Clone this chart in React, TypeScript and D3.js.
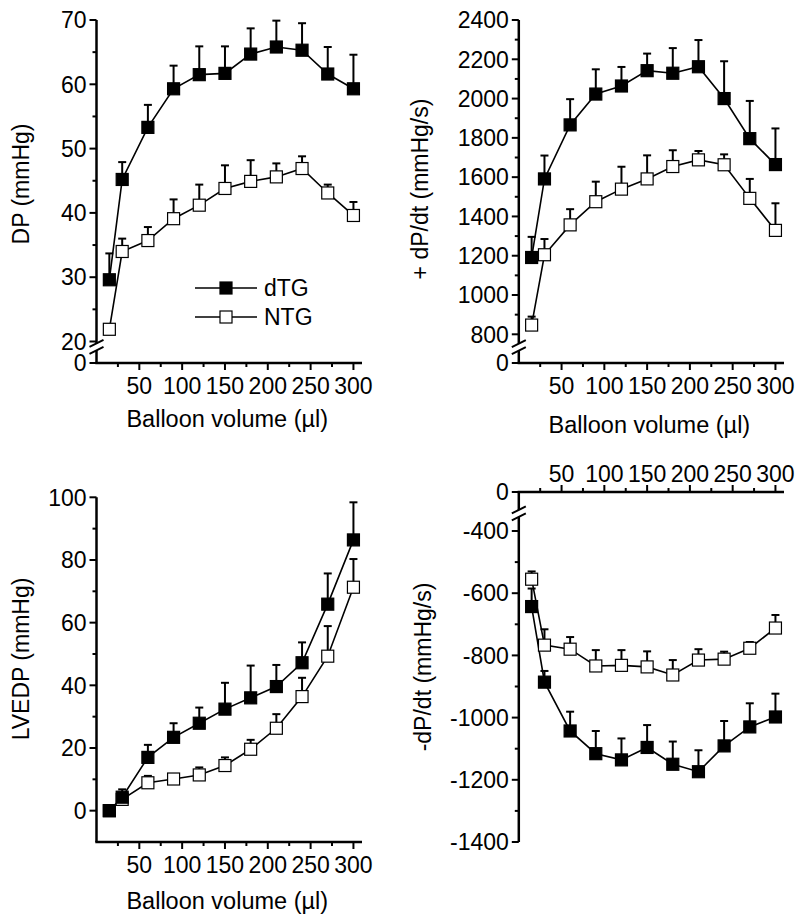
import React from 'react';
import * as d3 from 'd3';

// balloon volumes (µl) shared by all four panels
const volumes = [15, 30, 60, 90, 120, 150, 180, 210, 240, 270, 300];
const xTicks = [50, 100, 150, 200, 250, 300];
const xMinorTicks = [25, 75, 125, 175, 225, 275];

// DP (mmHg)
const dpDTG = [29.6, 45.2, 53.3, 59.3, 61.5, 61.7, 64.7, 65.8, 65.3, 61.6, 59.3];
const dpDTGErr = [4.1, 2.7, 3.5, 3.6, 4.4, 4.2, 4.0, 4.1, 4.2, 4.2, 5.3];
const dpNTG = [21.9, 34.0, 35.7, 39.1, 41.2, 43.8, 44.9, 45.6, 46.9, 43.1, 39.6];
const dpNTGErr = [0.8, 2.0, 2.1, 3.0, 3.2, 3.6, 3.3, 2.1, 1.9, 1.3, 2.1];
const dpTicks = [0, 20, 30, 40, 50, 60, 70];
const dpMinor = [25, 35, 45, 55, 65];

// +dP/dt (mmHg/s)
const dpdtDTG = [1191, 1591, 1866, 2023, 2064, 2142, 2129, 2162, 2000, 1796, 1664];
const dpdtDTGErr = [105, 119, 131, 126, 97, 87, 128, 136, 190, 192, 184];
const dpdtNTG = [847, 1205, 1357, 1475, 1539, 1591, 1654, 1688, 1663, 1492, 1329];
const dpdtNTGErr = [43, 80, 80, 102, 114, 120, 83, 45, 53, 99, 138];
const dpdtTicks = [0, 800, 1000, 1200, 1400, 1600, 1800, 2000, 2200, 2400];
const dpdtMinor = [900, 1100, 1300, 1500, 1700, 1900, 2100, 2300];

// LVEDP (mmHg)
const lvedpDTG = [0, 4.3, 17.0, 23.4, 27.9, 32.4, 36.0, 39.6, 47.2, 65.9, 86.4];
const lvedpDTGErr = [0, 2.5, 4.0, 4.5, 5.0, 8.4, 10.3, 6.9, 6.5, 9.8, 12.0];
const lvedpNTG = [0, 3.6, 8.9, 10.1, 11.4, 14.4, 19.6, 26.3, 36.4, 49.3, 71.3];
const lvedpNTGErr = [0, 1.0, 2.2, 0.7, 2.4, 2.6, 3.0, 4.5, 6.0, 9.6, 9.0];
const lvedpTicks = [0, 20, 40, 60, 80, 100];
const lvedpMinor = [10, 30, 50, 70, 90];

// -dP/dt (mmHg/s)
const negDTG = [-643, -886, -1043, -1116, -1136, -1096, -1150, -1174, -1091, -1030, -998];
const negDTGErr = [58, 36, 62, 73, 69, 72, 73, 69, 80, 76, 75];
const negNTG = [-555, -767, -780, -834, -832, -837, -863, -815, -812, -777, -712];
const negNTGErr = [25, 51, 39, 51, 49, 50, 48, 35, 24, 20, 42];
const negTicks = [0, -400, -600, -800, -1000, -1200, -1400];
const negMinor = [-500, -700, -900, -1100, -1300];

const groups = ['dTG', 'NTG'];

const FONT = "'Liberation Sans', Arial, Helvetica, sans-serif";
const FS = 23;

type Series = { values: number[]; errors: number[]; filled: boolean };

type PanelProps = {
  x: d3.ScaleLinear<number, number>;
  y: d3.ScaleLinear<number, number>;
  xAxisValue: number;
  xAxisTop?: boolean;
  yTicks: number[];
  yMinor: number[];
  brk?: [number, number, number];
  yTitle: string;
  yTitleX: number;
  yTitleY: number;
  xTitleY?: number;
  series: Series[];
};

const Panel = ({ x, y, xAxisValue, xAxisTop, yTicks, yMinor, brk, yTitle, yTitleX, yTitleY, xTitleY, series }: PanelProps) => {
  const ax = x(0);
  const ay = y(xAxisValue);
  const [r0, r1] = d3.extent(y.range()) as [number, number];
  const xEnd = x.domain()[1];
  const tdir = xAxisTop ? -1 : 1;

  // y axis segments (with optional break)
  const segs: [number, number][] = [];
  const slashes: number[] = [];
  if (brk) {
    const yA = y(brk[0]);
    const yB = y(brk[1]);
    const c = yA + (yB - yA) * brk[2];
    const d = Math.sign(yB - yA);
    segs.push([yA, c - 3.5 * d]);
    const far = d < 0 ? r0 : r1;
    segs.push([c + 3.5 * d, far]);
    slashes.push(c - 3.5 * d, c + 3.5 * d);
  } else {
    segs.push([r0, r1]);
  }

  const line = d3.line<number>().x((_, i) => x(volumes[i])).y(v => y(v));

  return (
    <g>
      {/* x axis */}
      <line x1={ax - 1.2} x2={x(xEnd)} y1={ay} y2={ay} stroke="#000" strokeWidth={2.5} />
      {xTicks.map(t => (
        <g key={'xt' + t}>
          <line x1={x(t)} x2={x(t)} y1={ay} y2={ay + tdir * 7} stroke="#000" strokeWidth={2} />
          <text x={x(t)} y={xAxisTop ? ay - 10 : ay + 31} textAnchor="middle" fontSize={FS}>{t}</text>
        </g>
      ))}
      {xMinorTicks.map(t => (
        <line key={'xm' + t} x1={x(t)} x2={x(t)} y1={ay} y2={ay + tdir * 4} stroke="#000" strokeWidth={2} />
      ))}
      {xTitleY !== undefined && (
        <text x={(x(0) + x(xEnd)) / 2 - 2} y={xTitleY} textAnchor="middle" fontSize={FS + 0.5}>Balloon volume (µl)</text>
      )}

      {/* y axis */}
      {segs.map((s, i) => (
        <line key={'ys' + i} x1={ax} x2={ax} y1={s[0]} y2={s[1]} stroke="#000" strokeWidth={2.5} />
      ))}
      {slashes.map((s, i) => (
        <line key={'sl' + i} x1={ax - 7} x2={ax + 7} y1={s + 3.5} y2={s - 3.5} stroke="#000" strokeWidth={2} />
      ))}
      {yTicks.map(t => (
        <g key={'yt' + t}>
          <line x1={ax} x2={ax - 7} y1={y(t)} y2={y(t)} stroke="#000" strokeWidth={2} />
          <text x={ax - 10} y={y(t)} dy="0.36em" textAnchor="end" fontSize={FS}>{t}</text>
        </g>
      ))}
      {yMinor.map(t => (
        <line key={'ym' + t} x1={ax} x2={ax - 4} y1={y(t)} y2={y(t)} stroke="#000" strokeWidth={2} />
      ))}
      <text transform={`translate(${yTitleX},${yTitleY}) rotate(-90)`} textAnchor="middle" fontSize={FS}>{yTitle}</text>

      {/* series */}
      {series.map((s, k) => (
        <path key={'ln' + k} d={line(s.values) || ''} fill="none" stroke="#000" strokeWidth={1.6} />
      ))}
      {series.map((s, k) =>
        s.values.map((v, i) => s.errors[i] > 0 && (
          <g key={'eb' + k + '-' + i}>
            <line x1={x(volumes[i])} x2={x(volumes[i])} y1={y(v)} y2={y(v + s.errors[i])} stroke="#000" strokeWidth={2} />
            <line x1={x(volumes[i]) - 4} x2={x(volumes[i]) + 4} y1={y(v + s.errors[i])} y2={y(v + s.errors[i])} stroke="#000" strokeWidth={2} />
          </g>
        ))
      )}
      {series.map((s, k) =>
        s.values.map((v, i) => (
          <rect key={'mk' + k + '-' + i} x={x(volumes[i]) - 6} y={y(v) - 6} width={12} height={12}
            fill={s.filled ? '#000' : '#fff'} stroke="#000" strokeWidth={1.2} />
        ))
      )}
    </g>
  );
};

const App = () => {
  const xLeft = d3.scaleLinear().domain([0, 310]).range([96.5, 362]);
  const xRight = d3.scaleLinear().domain([0, 310]).range([518.8, 784]);

  const yDP = d3.scaleLinear().domain([0, 20, 70]).range([363, 341.5, 20]);
  const yDPdt = d3.scaleLinear().domain([0, 800, 2400]).range([363, 334.3, 20]);
  const yLVEDP = d3.scaleLinear().domain([-10, 100]).range([842, 497.3]);
  const yNeg = d3.scaleLinear().domain([0, -400, -1400]).range([492, 531, 842]);

  const legendY = d3.scalePoint<string>().domain(groups).range([288, 317]);

  return (
    <svg width={799} height={917} style={{ position: 'absolute', left: 0, top: 0, background: '#fff' }}
      fontFamily={FONT} fill="#000">
      <Panel x={xLeft} y={yDP} xAxisValue={0} yTicks={dpTicks} yMinor={dpMinor} brk={[0, 20, 0.75]}
        yTitle="DP (mmHg)" yTitleX={29} yTitleY={184} xTitleY={427}
        series={[
          { values: dpNTG, errors: dpNTGErr, filled: false },
          { values: dpDTG, errors: dpDTGErr, filled: true },
        ]} />
      <Panel x={xRight} y={yDPdt} xAxisValue={0} yTicks={dpdtTicks} yMinor={dpdtMinor} brk={[0, 800, 0.55]}
        yTitle="+ dP/dt (mmHg/s)" yTitleX={428} yTitleY={189} xTitleY={433}
        series={[
          { values: dpdtNTG, errors: dpdtNTGErr, filled: false },
          { values: dpdtDTG, errors: dpdtDTGErr, filled: true },
        ]} />
      <Panel x={xLeft} y={yLVEDP} xAxisValue={-10} yTicks={lvedpTicks} yMinor={lvedpMinor}
        yTitle="LVEDP (mmHg)" yTitleX={29} yTitleY={659} xTitleY={909}
        series={[
          { values: lvedpNTG, errors: lvedpNTGErr, filled: false },
          { values: lvedpDTG, errors: lvedpDTGErr, filled: true },
        ]} />
      <Panel x={xRight} y={yNeg} xAxisValue={0} xAxisTop yTicks={negTicks} yMinor={negMinor} brk={[0, -400, 0.55]}
        yTitle="-dP/dt (mmHg/s)" yTitleX={431} yTitleY={667}
        series={[
          { values: negNTG, errors: negNTGErr, filled: false },
          { values: negDTG, errors: negDTGErr, filled: true },
        ]} />

      {/* legend */}
      {groups.map((g, i) => (
        <g key={g}>
          <line x1={195} x2={257} y1={legendY(g)} y2={legendY(g)} stroke="#000" strokeWidth={1.6} />
          <rect x={220} y={(legendY(g) as number) - 6} width={12} height={12}
            fill={i === 0 ? '#000' : '#fff'} stroke="#000" strokeWidth={1.2} />
          <text x={264} y={legendY(g)} dy="0.36em" fontSize={FS}>{g}</text>
        </g>
      ))}
    </svg>
  );
};

export default App;
